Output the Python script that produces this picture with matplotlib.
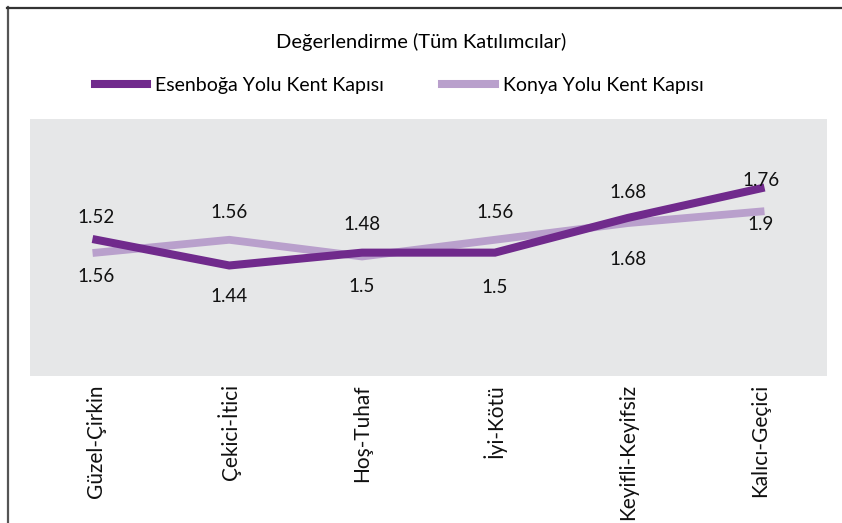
import matplotlib.pyplot as plt
from matplotlib.lines import Line2D

plt.rcParams['font.family'] = ['Lato', 'DejaVu Sans']

categories = ['Güzel-Çirkin', 'Çekici-İtici', 'Hoş-Tuhaf', 'İyi-Kötü', 'Keyifli-Keyifsiz', 'Kalıcı-Geçici']
# line heights as drawn in the picture (hidden axis)
esenboga = [1.53, 1.43, 1.48, 1.48, 1.615, 1.73]
konya = [1.48, 1.53, 1.465, 1.53, 1.595, 1.64]
# printed data labels
esenboga_labels = ['1.52', '1.44', '1.48', '1.5', '1.68', '1.76']
konya_labels = ['1.56', '1.56', '1.5', '1.56', '1.68', '1.9']

# label offsets in pixels (positive = up)
esen_off = [22, -31, 28, -35, 25, 8]
konya_off = [-24, 27, -30, 27, -36, -13]

dark = '#702a8c'
light = '#b9a0cc'

fig = plt.figure(figsize=(8.42, 5.23), dpi=100)
ax = fig.add_axes([30/842, 1-376/523, 797/842, 257/523])
ax.set_facecolor('#e6e7e8')

x = list(range(len(categories)))
ax.plot(x, konya, color=light, lw=5.6, solid_joinstyle='miter', zorder=2)
ax.plot(x, esenboga, color=dark, lw=5.8, solid_joinstyle='miter', zorder=3)

for i in x:
    ax.annotate(esenboga_labels[i], (i, esenboga[i]), xytext=(0, esen_off[i] * 0.72),
                textcoords='offset points', ha='center', va='center', fontsize=13.5, color='#111111')
    ax.annotate(konya_labels[i], (i, konya[i]), xytext=(0, konya_off[i] * 0.72),
                textcoords='offset points', ha='center', va='center', fontsize=13.5, color='#111111')

ax.set_xlim(-0.5, len(categories) - 0.5)
ax.set_ylim(1.0, 2.0)
ax.set_yticks([])
ax.set_xticks(x)
ax.set_xticklabels(categories, rotation=90, fontsize=15, color='#111111')
ax.tick_params(axis='x', length=0, pad=6)
for s in ax.spines.values():
    s.set_visible(False)

fig.text(421/842, 1-42/523, 'Değerlendirme (Tüm Katılımcılar)', ha='center', va='center', fontsize=14.5)

handles = [Line2D([], [], color=dark, lw=5.8), Line2D([], [], color=light, lw=5.8)]
fig.legend(handles, ['Esenboğa Yolu Kent Kapısı', 'Konya Yolu Kent Kapısı'], loc='center',
           bbox_to_anchor=(399/842, 1-85/523), ncol=2, frameon=False, fontsize=14,
           handlelength=2.7, handletextpad=0.4, columnspacing=3.0)

# outer frame (left and top only)
fig.add_artist(Line2D([7.5/842, 7.5/842], [0, 1-7/523], color='#555555', lw=1.6))
fig.add_artist(Line2D([6.5/842, 1], [1-7.5/523, 1-7.5/523], color='#333333', lw=1.6))

fig.savefig('out.png', dpi=100)
